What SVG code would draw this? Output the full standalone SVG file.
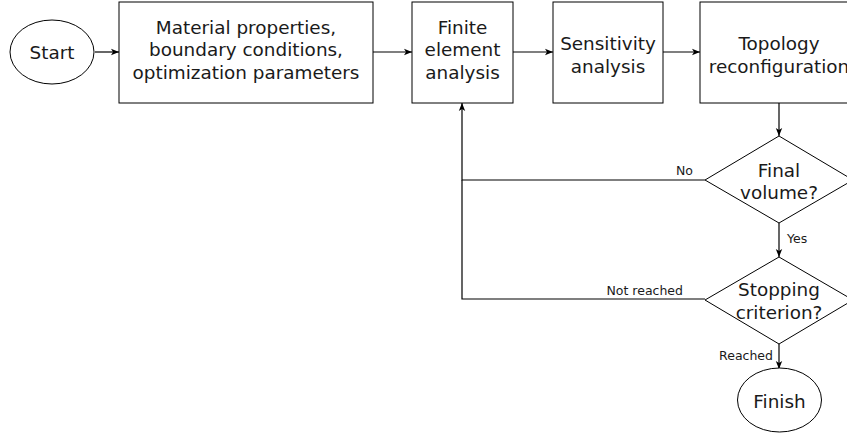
<svg xmlns="http://www.w3.org/2000/svg" width="847" height="434" viewBox="0 0 847 434">
<style>
.n{fill:#fff;stroke:#000;stroke-width:1}
.t{font-family:"DejaVu Sans",sans-serif;font-size:18.4px;fill:#1a1a1a;text-anchor:middle}
.l{font-family:"DejaVu Sans",sans-serif;font-size:12.5px;fill:#1a1a1a}
.c{fill:none;stroke:#000;stroke-width:1.2}
</style>
<defs>
<marker id="a" viewBox="0 0 10 10" refX="10" refY="5" markerWidth="8" markerHeight="8" markerUnits="userSpaceOnUse" orient="auto">
<path d="M0,1 L10,5 L0,9 L2.5,5 Z" fill="#000"/>
</marker>
</defs>
<rect width="847" height="434" fill="#fff"/>
<g id="connectors">
<path class="c" d="M95,52 H119" marker-end="url(#a)"/>
<path class="c" d="M373,52 H412" marker-end="url(#a)"/>
<path class="c" d="M513,52 H553" marker-end="url(#a)"/>
<path class="c" d="M663,52 H700" marker-end="url(#a)"/>
<path class="c" d="M779,103 V136" marker-end="url(#a)"/>
<path class="c" d="M779,223 V257" marker-end="url(#a)"/>
<path class="c" d="M779,344 V369" marker-end="url(#a)"/>
<path class="c" d="M705,180 H462 V103" marker-end="url(#a)"/>
<path class="c" d="M705,299 H462 V180"/>
<text class="l" x="693" y="174.5" text-anchor="end">No</text>
<text class="l" x="787" y="242.5">Yes</text>
<text class="l" x="683" y="295" text-anchor="end">Not reached</text>
<text class="l" x="773" y="359.5" text-anchor="end">Reached</text>
</g>
<g id="start">
<ellipse class="n" cx="52" cy="52" rx="42" ry="32"/>
<text class="t" x="52" y="59">Start</text>
</g>
<g id="inputs">
<rect class="n" x="119" y="2" width="254" height="101"/>
<text class="t" x="246" y="33.5">Material properties,</text>
<text class="t" x="246" y="56">boundary conditions,</text>
<text class="t" x="246" y="78.5">optimization parameters</text>
</g>
<g id="fea">
<rect class="n" x="412" y="2" width="101" height="101"/>
<text class="t" x="462.5" y="33.5">Finite</text>
<text class="t" x="462.5" y="56">element</text>
<text class="t" x="462.5" y="78.5">analysis</text>
</g>
<g id="sensitivity">
<rect class="n" x="553" y="2" width="110" height="101"/>
<text class="t" x="608" y="50">Sensitivity</text>
<text class="t" x="608" y="72.5">analysis</text>
</g>
<g id="topology">
<rect class="n" x="700" y="2" width="158" height="101"/>
<text class="t" x="779" y="50">Topology</text>
<text class="t" x="779" y="72.5">reconfiguration</text>
</g>
<g id="volume">
<polygon class="n" points="779,136 853,180 779,223 705,180"/>
<text class="t" x="779" y="176.5">Final</text>
<text class="t" x="779" y="198.5">volume?</text>
</g>
<g id="stopping">
<polygon class="n" points="779,257 853,300 779,344 705,300"/>
<text class="t" x="779" y="296">Stopping</text>
<text class="t" x="779" y="318.5">criterion?</text>
</g>
<g id="finish">
<ellipse class="n" cx="779.5" cy="400" rx="42" ry="32"/>
<text class="t" x="779.5" y="408">Finish</text>
</g>
</svg>
